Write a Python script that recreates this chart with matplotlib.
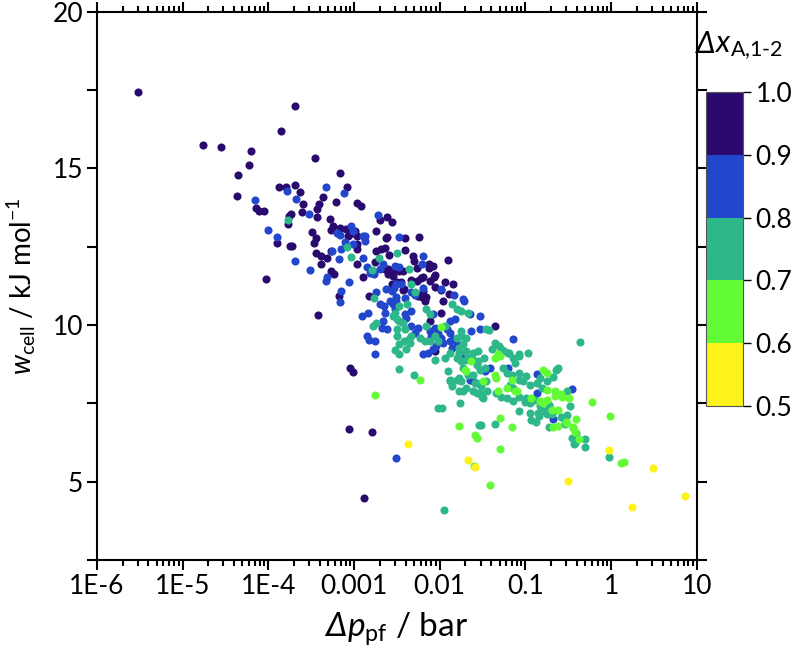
import numpy as np
import matplotlib
matplotlib.use('Agg')
import matplotlib.pyplot as plt
from matplotlib.colors import ListedColormap, BoundaryNorm
from matplotlib.cm import ScalarMappable
from matplotlib.ticker import MultipleLocator, LogLocator, NullFormatter
from matplotlib.offsetbox import TextArea, HPacker, AnnotationBbox

plt.rcParams['font.family'] = ['Lato', 'DejaVu Sans']
plt.rcParams['mathtext.fontset'] = 'custom'
plt.rcParams['mathtext.rm'] = 'Lato'
plt.rcParams['mathtext.it'] = 'Lato:italic'
plt.rcParams['mathtext.bf'] = 'Lato:bold'

# (log10 dp_pf / bar, w_cell / kJ mol-1), grouped by dx_A,1-2 class
purple_pts = [
    (-5.52, 17.43), (-3.69, 16.99), (-3.85, 16.19), (-4.76, 15.75), (-4.55, 15.70), (-4.20, 15.57),
    (-4.22, 15.11), (-4.35, 14.79), (-4.36, 14.11), (-3.87, 14.42), (-3.79, 14.42), (-3.69, 14.48),
    (-3.63, 14.24), (-3.59, 13.85), (-4.14, 13.75), (-4.11, 13.65), (-4.05, 13.64), (-3.73, 13.53),
    (-3.76, 13.49), (-3.77, 13.24), (-3.61, 13.61), (-3.90, 12.62), (-3.75, 12.51), (-3.72, 12.51),
    (-4.03, 11.48), (-3.45, 15.34), (-3.16, 14.86), (-3.08, 14.40), (-3.36, 14.08), (-3.41, 13.88),
    (-3.43, 13.70), (-3.21, 13.94), (-2.97, 13.89), (-2.92, 13.81), (-3.43, 13.46), (-3.28, 13.40),
    (-3.49, 12.96), (-3.44, 12.77), (-3.25, 13.17), (-3.16, 13.10), (-3.27, 13.04), (-2.99, 13.00),
    (-3.07, 12.85), (-2.70, 13.36), (-2.62, 13.44), (-2.74, 13.01), (-2.62, 12.80), (-2.56, 13.28),
    (-3.47, 12.61), (-3.09, 13.07), (-3.05, 12.90), (-2.97, 12.85), (-2.97, 12.59), (-2.96, 12.43),
    (-3.44, 12.29), (-3.38, 12.21), (-3.32, 12.14), (-3.27, 12.35), (-3.39, 11.95), (-2.96, 11.95),
    (-2.76, 12.00), (-2.74, 12.37), (-2.68, 12.43), (-2.64, 12.46), (-2.63, 12.78), (-2.64, 11.78),
    (-2.60, 11.78), (-2.54, 11.73), (-2.48, 11.73), (-3.27, 11.73), (-3.23, 11.62), (-2.89, 11.52),
    (-2.55, 11.57), (-2.50, 11.36), (-2.56, 11.31), (-3.18, 10.93), (-2.82, 10.93), (-3.42, 10.31),
    (-3.05, 8.63), (-3.01, 8.50), (-2.40, 12.78), (-2.24, 12.80), (-2.59, 12.24), (-2.41, 12.39),
    (-2.31, 12.21), (-2.30, 12.05), (-2.43, 11.71), (-2.26, 11.82), (-2.12, 11.81), (-2.06, 11.60),
    (-1.90, 12.07), (-2.45, 11.36), (-2.34, 11.43), (-2.22, 11.50), (-2.11, 11.41), (-2.43, 11.11),
    (-2.25, 10.93), (-2.16, 10.90), (-2.06, 11.22), (-1.94, 11.39), (-1.89, 10.98), (-2.12, 11.95),
    (-2.08, 11.89), (-2.60, 11.62), (-2.20, 11.52), (-2.26, 11.41), (-2.07, 11.52), (-1.84, 11.30),
    (-2.42, 11.14), (-2.19, 11.09), (-2.21, 10.88), (-2.17, 10.77), (-1.98, 11.11), (-1.96, 10.77),
    (-1.98, 10.39), (-2.11, 10.13), (-2.06, 9.17), (-1.36, 9.97), (-3.06, 6.69), (-2.79, 6.57),
    (-2.88, 4.47),
]
blue_pts = [
    (-3.78, 14.29), (-3.68, 14.02), (-4.16, 13.98), (-3.53, 13.53), (-4.00, 13.03), (-3.90, 12.80),
    (-3.69, 12.05), (-3.33, 14.42), (-3.12, 14.22), (-3.03, 13.17), (-3.20, 12.93), (-3.16, 12.88),
    (-2.72, 13.50), (-2.87, 12.83), (-3.01, 13.00), (-2.89, 12.85), (-3.11, 12.64), (-3.01, 12.59),
    (-3.15, 12.43), (-3.26, 12.37), (-3.51, 11.75), (-3.18, 12.10), (-2.89, 12.14), (-2.85, 11.86),
    (-2.78, 11.73), (-3.32, 11.52), (-3.33, 11.41), (-3.06, 11.36), (-2.74, 11.07), (-2.63, 11.14),
    (-2.56, 11.09), (-3.15, 11.09), (-3.16, 10.75), (-2.70, 10.66), (-2.58, 10.77), (-2.64, 10.40),
    (-2.52, 10.50), (-2.84, 10.40), (-2.91, 10.29), (-2.67, 9.89), (-2.62, 9.86), (-2.85, 9.65),
    (-2.83, 9.51), (-2.76, 9.49), (-2.75, 9.06), (-2.47, 12.82), (-2.87, 12.67), (-2.81, 11.65),
    (-2.77, 11.62), (-2.52, 11.89), (-2.47, 11.84), (-2.21, 11.95), (-2.51, 11.30), (-2.53, 11.17),
    (-2.19, 11.18), (-2.29, 10.95), (-2.51, 10.90), (-2.41, 10.86), (-1.98, 11.14), (-1.83, 10.95),
    (-1.73, 10.82), (-2.19, 12.21), (-2.66, 11.95), (-2.70, 11.79), (-2.45, 11.30), (-2.33, 11.04),
    (-1.72, 10.77), (-1.53, 10.29), (-1.65, 10.34), (-2.51, 10.77), (-2.55, 10.66), (-2.65, 10.61),
    (-2.33, 10.45), (-2.41, 10.34), (-2.39, 10.24), (-2.08, 10.34), (-1.88, 10.13), (-1.82, 10.18),
    (-2.66, 10.13), (-2.33, 9.97), (-2.25, 9.92), (-2.29, 9.76), (-2.06, 9.92), (-1.92, 9.86),
    (-1.88, 9.76), (-1.63, 9.81), (-1.53, 9.86), (-1.15, 9.57), (-2.11, 9.81), (-2.10, 9.65),
    (-2.02, 9.76), (-1.98, 9.60), (-1.96, 9.44), (-2.20, 9.06), (-2.14, 9.12), (-1.88, 9.49),
    (-1.84, 9.55), (-1.86, 9.28), (-1.80, 9.38), (-1.75, 8.97), (-1.41, 8.63), (-1.20, 8.63),
    (-0.87, 7.83), (-0.68, 6.99), (-2.08, 9.22), (-2.04, 9.33), (-0.87, 8.45), (-1.65, 8.26),
    (-1.61, 8.20), (-1.47, 8.53), (-0.46, 7.95), (-2.51, 5.74),
]
teal_pts = [
    (-3.77, 13.37), (-3.08, 12.50), (-3.04, 12.18), (-2.79, 11.75), (-2.71, 12.14), (-2.50, 12.29),
    (-2.77, 10.87), (-2.54, 10.29), (-2.50, 10.18), (-2.74, 10.07), (-2.78, 9.97), (-2.50, 9.65),
    (-2.48, 9.38), (-2.52, 9.19), (-2.48, 9.06), (-2.48, 8.60), (-2.36, 11.79), (-2.33, 11.30),
    (-2.29, 11.06), (-1.86, 10.66), (-1.80, 10.50), (-1.75, 10.45), (-1.67, 10.40), (-2.48, 10.61),
    (-2.38, 10.66), (-2.16, 10.50), (-2.11, 10.34), (-2.52, 10.39), (-2.47, 10.13), (-2.50, 9.86),
    (-2.43, 10.07), (-2.40, 9.86), (-2.16, 9.97), (-1.75, 9.81), (-1.46, 9.86), (-1.42, 9.84),
    (-0.36, 9.47), (-2.42, 9.49), (-2.36, 9.55), (-2.39, 9.22), (-2.33, 9.65), (-2.35, 9.44),
    (-2.23, 9.60), (-2.17, 9.49), (-1.78, 9.12), (-1.70, 8.90), (-1.67, 8.95), (-1.61, 8.90),
    (-1.55, 8.85), (-1.48, 8.95), (-1.39, 9.22), (-1.35, 9.44), (-1.31, 9.33), (-1.25, 9.17),
    (-1.19, 9.12), (-1.15, 8.95), (-1.07, 9.00), (-1.16, 8.42), (-1.07, 8.26), (-0.64, 8.58),
    (-1.88, 8.26), (-1.80, 8.26), (-1.86, 8.05), (-1.57, 8.15), (-1.52, 8.05), (-1.46, 8.21),
    (-1.57, 7.82), (-1.51, 7.71), (-1.34, 7.82), (-1.28, 7.71), (-1.07, 7.71), (-1.00, 7.55),
    (-0.85, 7.20), (-0.78, 7.25), (-0.72, 6.76), (-0.48, 7.40), (-0.41, 6.55), (-0.42, 6.23),
    (-2.02, 7.35), (-1.76, 7.52), (-2.30, 8.42), (-1.54, 6.82), (-1.77, 8.31), (-1.67, 8.42),
    (-2.11, 9.49), (-2.06, 9.65), (-2.02, 9.49), (-1.94, 9.97), (-1.80, 9.60), (-1.75, 9.65),
    (-1.69, 9.60), (-1.73, 9.38), (-1.78, 9.27), (-1.69, 9.17), (-1.61, 9.11), (-1.55, 9.17),
    (-1.88, 9.11), (-1.94, 8.95), (-2.06, 8.90), (-1.90, 8.53), (-1.88, 8.20), (-1.80, 8.95),
    (-1.75, 8.85), (-1.73, 8.63), (-1.57, 8.74), (-1.53, 8.58), (-1.47, 8.63), (-1.61, 8.42),
    (-1.59, 8.15), (-1.75, 8.20), (-1.69, 7.99), (-1.78, 7.88), (-1.73, 7.88), (-1.61, 7.88),
    (-1.53, 7.83), (-1.49, 7.67), (-1.45, 7.88), (-1.28, 9.22), (-1.20, 9.11), (-1.26, 8.63),
    (-1.22, 8.47), (-1.12, 8.79), (-1.08, 9.06), (-1.07, 8.47), (-0.99, 8.36), (-1.03, 8.20),
    (-0.97, 9.11), (-0.95, 8.10), (-0.87, 8.15), (-0.81, 7.99), (-0.62, 8.63), (-1.18, 8.10),
    (-1.14, 7.99), (-1.22, 7.67), (-1.14, 7.56), (-0.99, 7.67), (-0.95, 7.51), (-0.89, 7.62),
    (-0.83, 7.40), (-0.73, 7.46), (-1.07, 7.24), (-0.95, 7.19), (-0.93, 6.98), (-0.58, 7.08),
    (-0.54, 6.98), (-0.52, 7.88), (-0.63, 8.60), (-0.68, 8.33), (-0.83, 8.31), (-0.75, 8.20),
    (-0.72, 7.40), (-0.84, 7.09), (-0.75, 7.15), (-0.69, 7.17), (-0.51, 7.12), (-0.54, 6.84),
    (-0.46, 6.39), (-0.30, 6.37), (-0.43, 6.20), (-0.30, 6.12), (-0.02, 5.78), (-0.88, 6.92),
    (-1.36, 6.84), (-1.52, 6.82), (-1.97, 7.36), (-1.95, 4.09),
]
green_pts = [
    (-2.76, 7.78), (-1.98, 9.94), (-1.36, 8.95), (-1.32, 9.06), (-1.30, 9.00), (-0.79, 8.58),
    (-0.75, 8.47), (-2.23, 8.26), (-1.78, 6.79), (-1.59, 6.50), (-1.57, 6.38), (-1.30, 7.03),
    (-1.16, 6.75), (-1.30, 6.05), (-1.60, 5.51), (-1.41, 4.88), (-0.62, 6.77), (-0.22, 7.55),
    (-0.01, 7.11), (0.11, 5.58), (0.145, 5.63), (-0.75, 7.92), (-0.655, 7.91), (-0.655, 7.72),
    (-0.57, 7.70), (-0.49, 7.66), (-0.83, 7.56), (-0.79, 7.51), (-0.69, 7.30), (-0.53, 6.91),
    (-0.415, 6.99), (-0.675, 6.76), (-0.45, 6.71), (-0.42, 6.60), (-0.38, 6.37), (-1.71, 8.58),
    (-1.34, 8.31), (-1.22, 7.99), (-1.10, 7.88), (-0.93, 7.67), (-0.75, 7.62), (-0.52, 6.87),
    (-0.44, 6.76), (-1.63, 8.85), (-1.69, 8.53), (-1.36, 8.42), (-1.49, 8.20), (-1.12, 7.88),
    (-1.32, 7.88), (-1.16, 8.26), (-0.62, 7.29), (-0.58, 7.80),
]
yellow_pts = [
    (-2.37, 6.20), (-1.67, 5.70), (-1.585, 5.47), (-0.02, 6.00), (0.49, 5.44), (-0.50, 5.03),
    (0.86, 4.53), (0.24, 4.20),
]

class_bounds = [0.5, 0.6, 0.7, 0.8, 0.9, 1.0]
class_colors = ['#fdf21a', '#62fb35', '#2eb78a', '#2246cc', '#2a0a6e']
groups = [purple_pts, blue_pts, teal_pts, green_pts, yellow_pts]
group_colors = class_colors[::-1]

xtick_vals = [1e-6, 1e-5, 1e-4, 1e-3, 1e-2, 1e-1, 1, 10]
xtick_labels = ['1E-6', '1E-5', '1E-4', '0.001', '0.01', '0.1', '1', '10']

fig = plt.figure(figsize=(8, 6.58), dpi=100)
ax = fig.add_axes([0.121, 0.149, 0.750, 0.833])

for pts, col in zip(groups, group_colors):
    arr = np.array(pts)
    ax.scatter(10 ** arr[:, 0], arr[:, 1], s=34, color=col, linewidths=0, zorder=3)

ax.set_xscale('log')
ax.set_xlim(1e-6, 10)
ax.set_ylim(2.5, 20)
ax.set_xticks(xtick_vals)
ax.set_xticklabels(xtick_labels)
ax.xaxis.set_minor_locator(LogLocator(base=10, subs=np.arange(2, 10), numticks=20))
ax.xaxis.set_minor_formatter(NullFormatter())
ax.yaxis.set_major_locator(MultipleLocator(5))
ax.yaxis.set_minor_locator(MultipleLocator(2.5))

for s in ax.spines.values():
    s.set_linewidth(1.5)
ax.tick_params(which='both', direction='out', top=True, right=True, width=1.5, labelsize=19)
ax.tick_params(which='major', length=7, pad=3)
ax.tick_params(axis='x', which='minor', length=4)
ax.tick_params(axis='y', which='minor', length=7)

ax.set_ylabel(r'$\mathit{w}_{\mathrm{cell}}$ / kJ mol$^{-1}$', fontsize=20, labelpad=10)


def italic_delta_label(rest, size):
    # mathtext keeps capital Greek upright, so the italic Delta is its own text
    delta = TextArea('Δ', textprops=dict(fontsize=size, fontstyle='italic'))
    tail = TextArea(rest, textprops=dict(fontsize=size))
    return HPacker(children=[delta, tail], align='baseline', pad=0, sep=0)


xlab = AnnotationBbox(italic_delta_label(r'$\mathit{p}_{\mathrm{pf}}$ / bar', 24),
                      (0.5, 0.0), xycoords='axes fraction',
                      xybox=(0, -36), boxcoords='offset points',
                      box_alignment=(0.5, 1.0), frameon=False, annotation_clip=False)
ax.add_artist(xlab)

cax = fig.add_axes([0.883, 0.383, 0.046, 0.477])
cmap = ListedColormap(class_colors)
norm = BoundaryNorm(class_bounds, cmap.N)
cb = fig.colorbar(ScalarMappable(norm=norm, cmap=cmap), cax=cax, ticks=class_bounds)
cb.ax.set_yticklabels(['0.5', '0.6', '0.7', '0.8', '0.9', '1.0'])
cb.ax.tick_params(labelsize=19, length=6, width=1, direction='out', pad=3)
cb.outline.set_linewidth(0.8)
cb.outline.set_edgecolor('#555555')

cblab = AnnotationBbox(italic_delta_label(r'$\mathit{x}_{\mathrm{A{,}1\text{-}2}}$', 22),
                       (0.869, 0.93), xycoords='figure fraction',
                       box_alignment=(0.0, 0.5), frameon=False, annotation_clip=False)
fig.add_artist(cblab)

fig.savefig('out.png', dpi=100)
